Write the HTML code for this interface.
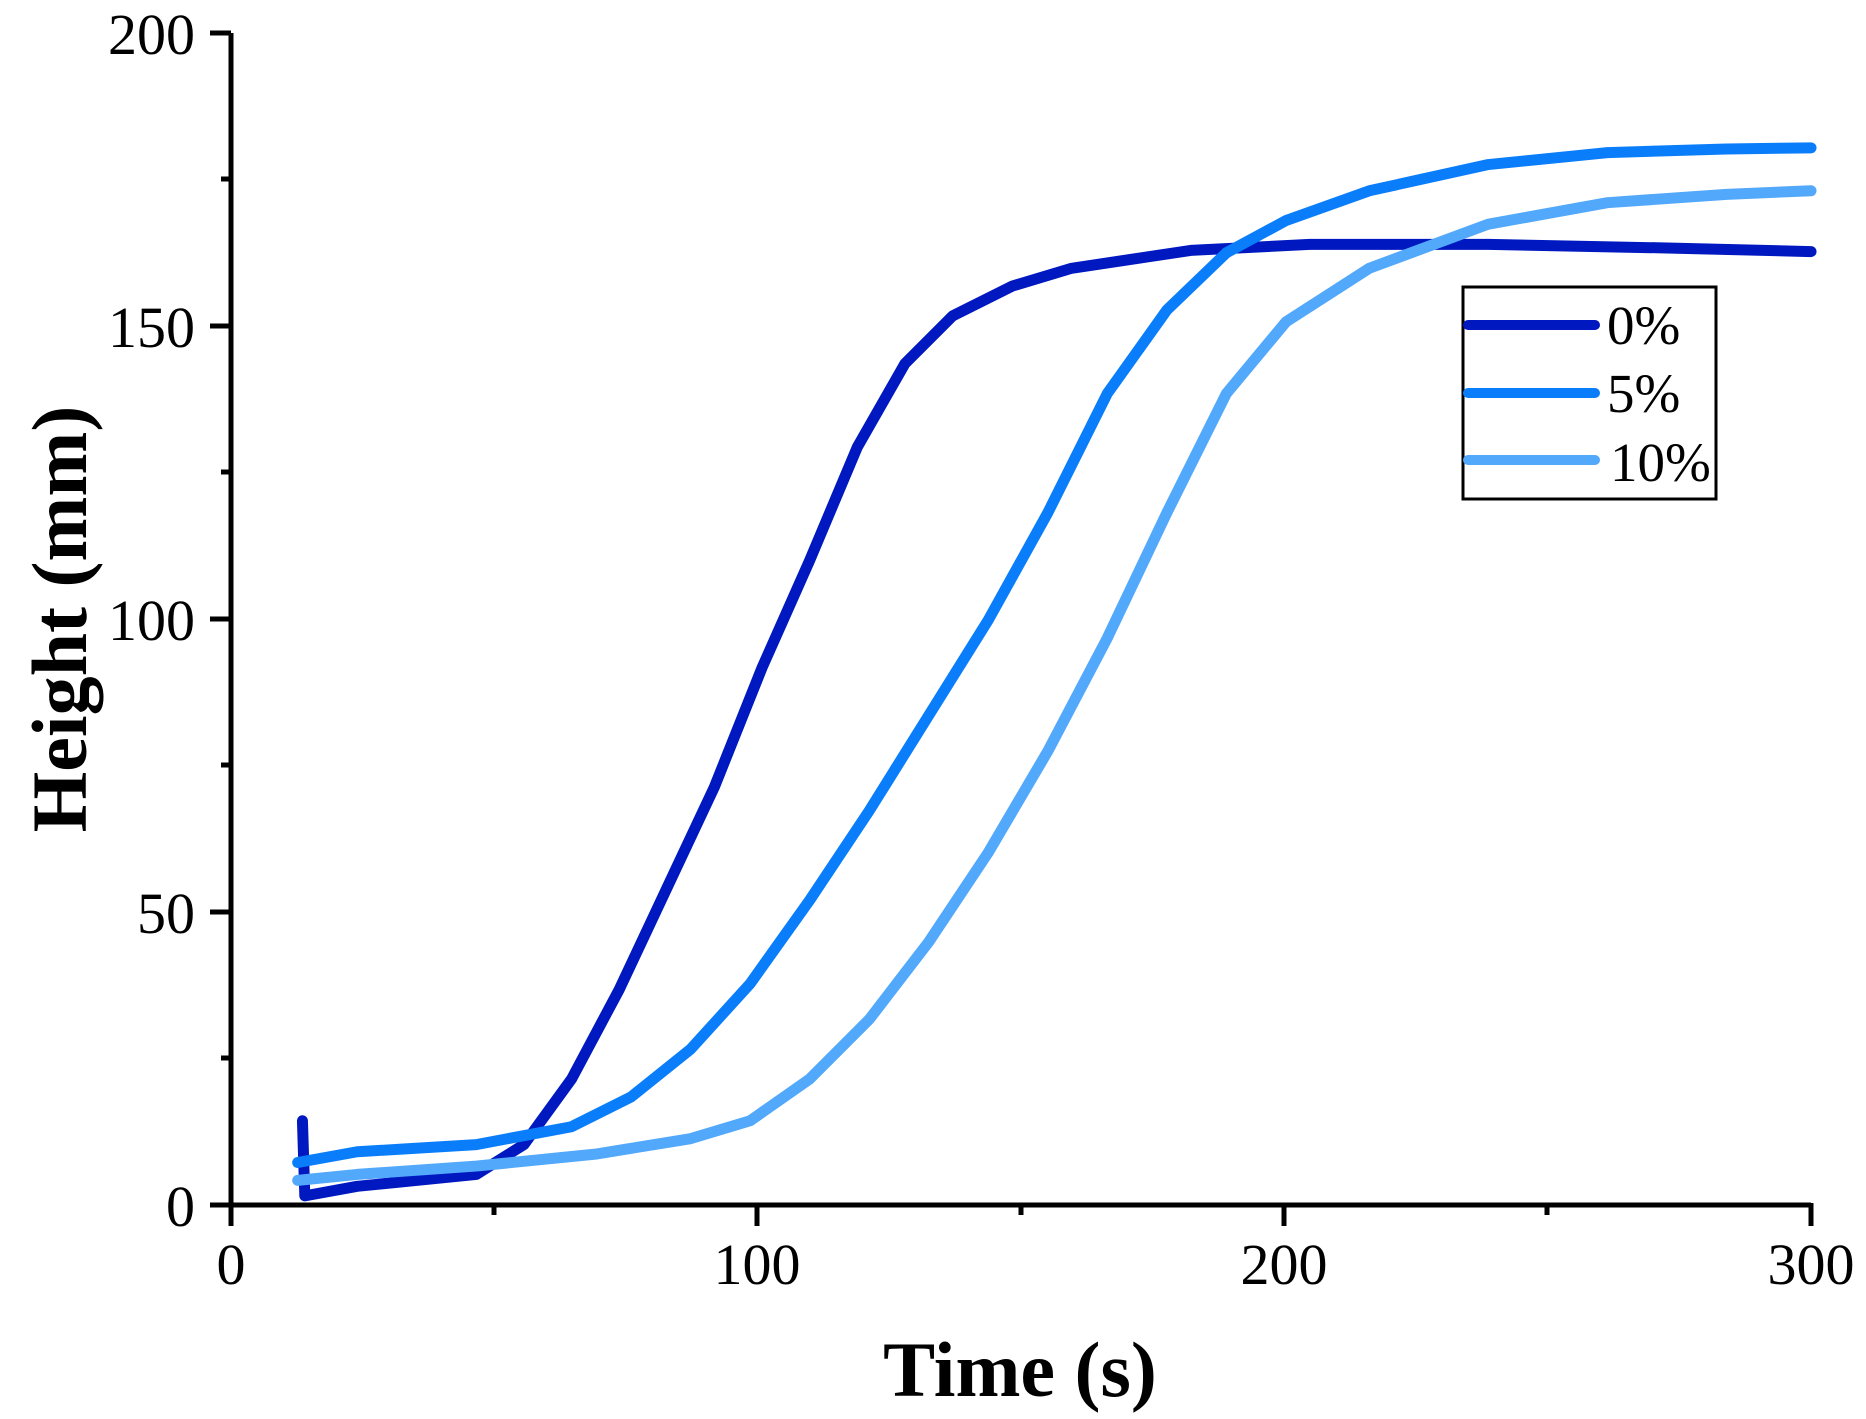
<!DOCTYPE html>
<html><head><style>html,body{margin:0;padding:0;background:#fff;}svg{display:block}</style></head>
<body>
<svg width="1866" height="1419" xmlns="http://www.w3.org/2000/svg" font-family="Liberation Serif, serif">
<g stroke="#000" stroke-width="5" fill="none">
<path d="M231,33 V1205 H1811"/>
<path d="M210,33H231 M210,326H231 M210,619H231 M210,912H231 M210,1205H231"/>
<path d="M221,179H231 M221,472H231 M221,765H231 M221,1058H231"/>
<path d="M231,1205V1226 M757,1205V1226 M1284,1205V1226 M1811,1203V1226"/>
<path d="M494,1205V1215 M1021,1205V1215 M1547,1205V1215"/>
</g>
<g font-size="58" text-anchor="end" fill="#000">
<text x="195" y="54">200</text>
<text x="195" y="347">150</text>
<text x="195" y="640">100</text>
<text x="195" y="933">50</text>
<text x="195" y="1226">0</text>
</g>
<g font-size="58" text-anchor="middle" fill="#000">
<text x="231" y="1284">0</text>
<text x="757" y="1284">100</text>
<text x="1284" y="1284">200</text>
<text x="1811" y="1284">300</text>
</g>
<text x="1020" y="1396" font-size="78" font-weight="bold" text-anchor="middle">Time (s)</text>
<text transform="translate(86,619) rotate(-90)" font-size="78" font-weight="bold" text-anchor="middle">Height (mm)</text>
<g transform="scale(1.1907,1.1923)" fill="none" stroke-width="11" stroke-linejoin="round" stroke-linecap="round">
<path vector-effect="non-scaling-stroke" stroke="#0018C0" d="M254,940 L256,1003 L300,995 L400,985 L440,960 L480,905 L520,830 L560,745 L600,660 L640,560 L680,470 L720,375 L760,305 L800,265 L850,240 L900,225 L1000,210 L1100,205 L1250,205 L1400,208 L1521,211"/>
<path vector-effect="non-scaling-stroke" stroke="#0A7EFA" d="M250,975 L300,966 L400,960 L480,945 L530,920 L580,880 L630,825 L680,755 L730,680 L780,600 L830,520 L880,430 L930,330 L980,260 L1030,212 L1080,185 L1150,160 L1250,138 L1350,128 L1450,125 L1521,124"/>
<path vector-effect="non-scaling-stroke" stroke="#52A8FA" d="M250,990 L300,985 L400,978 L500,968 L580,955 L630,940 L680,905 L730,855 L780,790 L830,715 L880,630 L930,535 L980,430 L1030,330 L1080,270 L1150,225 L1250,188 L1350,170 L1450,163 L1521,160"/>
</g>
<rect x="1463" y="287" width="253" height="212" fill="#fff" stroke="#000" stroke-width="3"/>
<g stroke-width="10" stroke-linecap="round">
<line x1="1468" y1="325" x2="1595" y2="325" stroke="#0018C0"/>
<line x1="1468" y1="393" x2="1595" y2="393" stroke="#0A7EFA"/>
<line x1="1468" y1="460" x2="1595" y2="460" stroke="#52A8FA"/>
</g>
<g font-size="55" fill="#000">
<text x="1607" y="344">0%</text>
<text x="1607" y="412">5%</text>
<text x="1610" y="481">10%</text>
</g>
</svg>
</body></html>
